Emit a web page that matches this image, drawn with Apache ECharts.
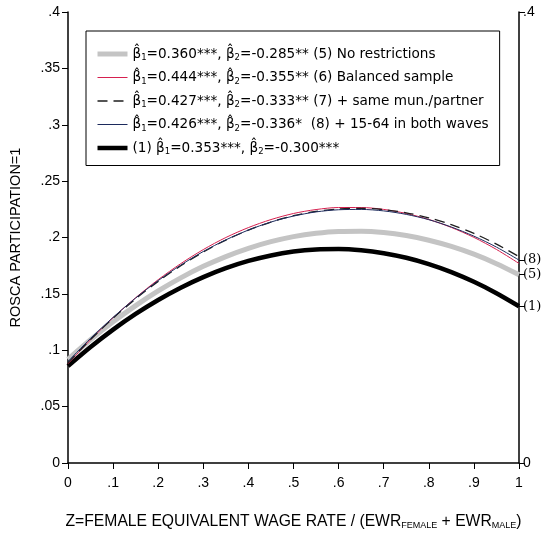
<!DOCTYPE html>
<html><head><meta charset="utf-8">
<script src="https://cdn.jsdelivr.net/npm/echarts@6/dist/echarts.min.js"></script>
<style>html,body{margin:0;padding:0;background:#fff}#c{width:555px;height:535px}</style>
</head><body><div id="c"></div>
<script>
var zValues = [0, 0.05, 0.1, 0.15, 0.2, 0.25, 0.3, 0.35, 0.4, 0.45, 0.5, 0.55, 0.6, 0.65, 0.7, 0.75, 0.8, 0.85, 0.9, 0.95, 1.0];
var s5 = [0.092, 0.1093, 0.1252, 0.1396, 0.1526, 0.1642, 0.1744, 0.1831, 0.1904, 0.1963, 0.2008, 0.2038, 0.2054, 0.2056, 0.2044, 0.2017, 0.1976, 0.1921, 0.1852, 0.1768, 0.167];
var s6 = [0.088, 0.1093, 0.1289, 0.1466, 0.1626, 0.1768, 0.1893, 0.2000, 0.2088, 0.2159, 0.2213, 0.2248, 0.2266, 0.2266, 0.2249, 0.2213, 0.2160, 0.2089, 0.2001, 0.1894, 0.177];
var s7 = [0.089, 0.1095, 0.1284, 0.1456, 0.1611, 0.1749, 0.1871, 0.1977, 0.2065, 0.2137, 0.2193, 0.2231, 0.2253, 0.2259, 0.2247, 0.2219, 0.2175, 0.2114, 0.2036, 0.1941, 0.183];
var s8 = [0.090, 0.1105, 0.1292, 0.1463, 0.1618, 0.1755, 0.1876, 0.1979, 0.2066, 0.2137, 0.2190, 0.2227, 0.2246, 0.2249, 0.2236, 0.2205, 0.2158, 0.2093, 0.2012, 0.1915, 0.180];
var s1 = [0.086, 0.1029, 0.1183, 0.1322, 0.1446, 0.1555, 0.1649, 0.1728, 0.1792, 0.1841, 0.1875, 0.1894, 0.1898, 0.1887, 0.1861, 0.1820, 0.1764, 0.1693, 0.1607, 0.1506, 0.139];
var legendNames = [
  '{t|β̂}{s|1}{t|=0.360***, β̂}{s|2}{t|=-0.285** (5) No restrictions}',
  '{t|β̂}{s|1}{t|=0.444***, β̂}{s|2}{t|=-0.355** (6) Balanced sample}',
  '{t|β̂}{s|1}{t|=0.427***, β̂}{s|2}{t|=-0.333** (7) + same mun./partner}',
  '{t|β̂}{s|1}{t|=0.426***, β̂}{s|2}{t|=-0.336*  (8) + 15-64 in both waves}',
  '{t|(1) β̂}{s|1}{t|=0.353***, β̂}{s|2}{t|=-0.300***}'
];
var endTags = ['(8)', '(5)', '(1)'];

function pairs(arr){ return zValues.map(function(z,i){ return [z, arr[i]]; }); }
function fmt(v){ var r = +(+v).toFixed(2); if (r === 0) return '0'; if (r === 1) return '1'; return String(r).replace(/^0/, ''); }

var endVals = [s8[s8.length-1], s5[s5.length-1], s1[s1.length-1]];
var font = 'Liberation Sans, Arial, sans-serif';
var chart = echarts.init(document.getElementById('c'), null, {renderer:'canvas'});
var rich = {
  t: {fontFamily: 'DejaVu Sans', fontSize: 13.6, color: '#000'},
  s: {fontFamily: 'DejaVu Sans', fontSize: 8.5, color: '#000', padding: [8, 0, 0, 0]}
};
chart.setOption({
  animation: false,
  grid: {left: 66, right: 36, top: 12, bottom: 70},
  legend: {
    orient: 'vertical', left: 86, top: 31,
    borderColor: '#000', borderWidth: 1, padding: [16, 11, 9, 9],
    itemGap: 8, itemWidth: 30, itemHeight: 14,
    data: legendNames,
    formatter: function(n){ return n; },
    itemStyle: {opacity: 0},
    lineStyle: {width: 'inherit'},
    textStyle: {rich: rich}
  },
  xAxis: {
    type: 'value', min: 0, max: 1, interval: 0.1,
    axisLine: {lineStyle: {color: '#000', width: 1.5}},
    axisTick: {show: true, length: 6, lineStyle: {color: '#000'}},
    splitLine: {show: false},
    axisLabel: {formatter: fmt, color: '#000', fontFamily: font, fontSize: 14, margin: 13},
    name: '{n|Z=FEMALE EQUIVALENT WAGE RATE / (EWR}{b|FEMALE}{n| + EWR}{b|MALE}{n|)}',
    nameLocation: 'middle', nameGap: 50,
    nameTextStyle: {rich: {
      n: {fontFamily: font, fontSize: 15.7, color: '#000'},
      b: {fontFamily: font, fontSize: 9, color: '#000', padding: [8, 0, 0, 0]}
    }}
  },
  yAxis: [{
    type: 'value', min: 0, max: 0.4, interval: 0.05,
    axisLine: {show: true, lineStyle: {color: '#000', width: 1.5}},
    axisTick: {show: true, length: 6, lineStyle: {color: '#000'}},
    splitLine: {show: false},
    axisLabel: {formatter: fmt, color: '#000', fontFamily: font, fontSize: 14, margin: 8},
    name: 'ROSCA PARTICIPATION=1', nameLocation: 'middle', nameGap: 45,
    nameTextStyle: {fontFamily: font, fontSize: 14.5, color: '#000'}
  }, {
    type: 'value', min: 0, max: 0.4, position: 'right',
    axisLine: {show: true, lineStyle: {color: '#000', width: 1.5}},
    axisTick: {show: true, length: 6, lineStyle: {color: '#000'}, customValues: [0, 0.4].concat(endVals)},
    splitLine: {show: false},
    axisLabel: {
      customValues: [0, 0.4].concat(endVals), color: '#000', margin: 4,
      formatter: function(v){
        for (var i = 0; i < endVals.length; i++) if (Math.abs(v - endVals[i]) < 1e-9) return '{p|' + endTags[i] + '}';
        return '{q|' + fmt(v) + '}';
      },
      rich: {
        p: {fontFamily: 'DejaVu Serif, serif', fontSize: 13, color: '#000'},
        q: {fontFamily: font, fontSize: 14, color: '#000'}
      }
    }
  }],
  series: [
    {name: legendNames[0], type: 'line', data: pairs(s5), smooth: 0.3, showSymbol: false, symbol: 'none', z: 2,
      lineStyle: {color: '#c4c4c4', width: 5}, itemStyle: {color: '#c4c4c4'}},
    {name: legendNames[1], type: 'line', data: pairs(s6), smooth: 0.3, showSymbol: false, symbol: 'none', z: 4,
      lineStyle: {color: '#d6204f', width: 1}, itemStyle: {color: '#d6204f'}},
    {name: legendNames[2], type: 'line', data: pairs(s7), smooth: 0.3, showSymbol: false, symbol: 'none', z: 5,
      lineStyle: {color: '#1e1e1e', width: 1.3, type: [10, 6]}, itemStyle: {color: '#1e1e1e'}},
    {name: legendNames[3], type: 'line', data: pairs(s8), smooth: 0.3, showSymbol: false, symbol: 'none', z: 6,
      lineStyle: {color: '#1c2a5c', width: 1}, itemStyle: {color: '#1c2a5c'}},
    {name: legendNames[4], type: 'line', data: pairs(s1), smooth: 0.3, showSymbol: false, symbol: 'none', z: 3,
      lineStyle: {color: '#000', width: 4.5}, itemStyle: {color: '#000'}}
  ]
});
</script></body></html>
